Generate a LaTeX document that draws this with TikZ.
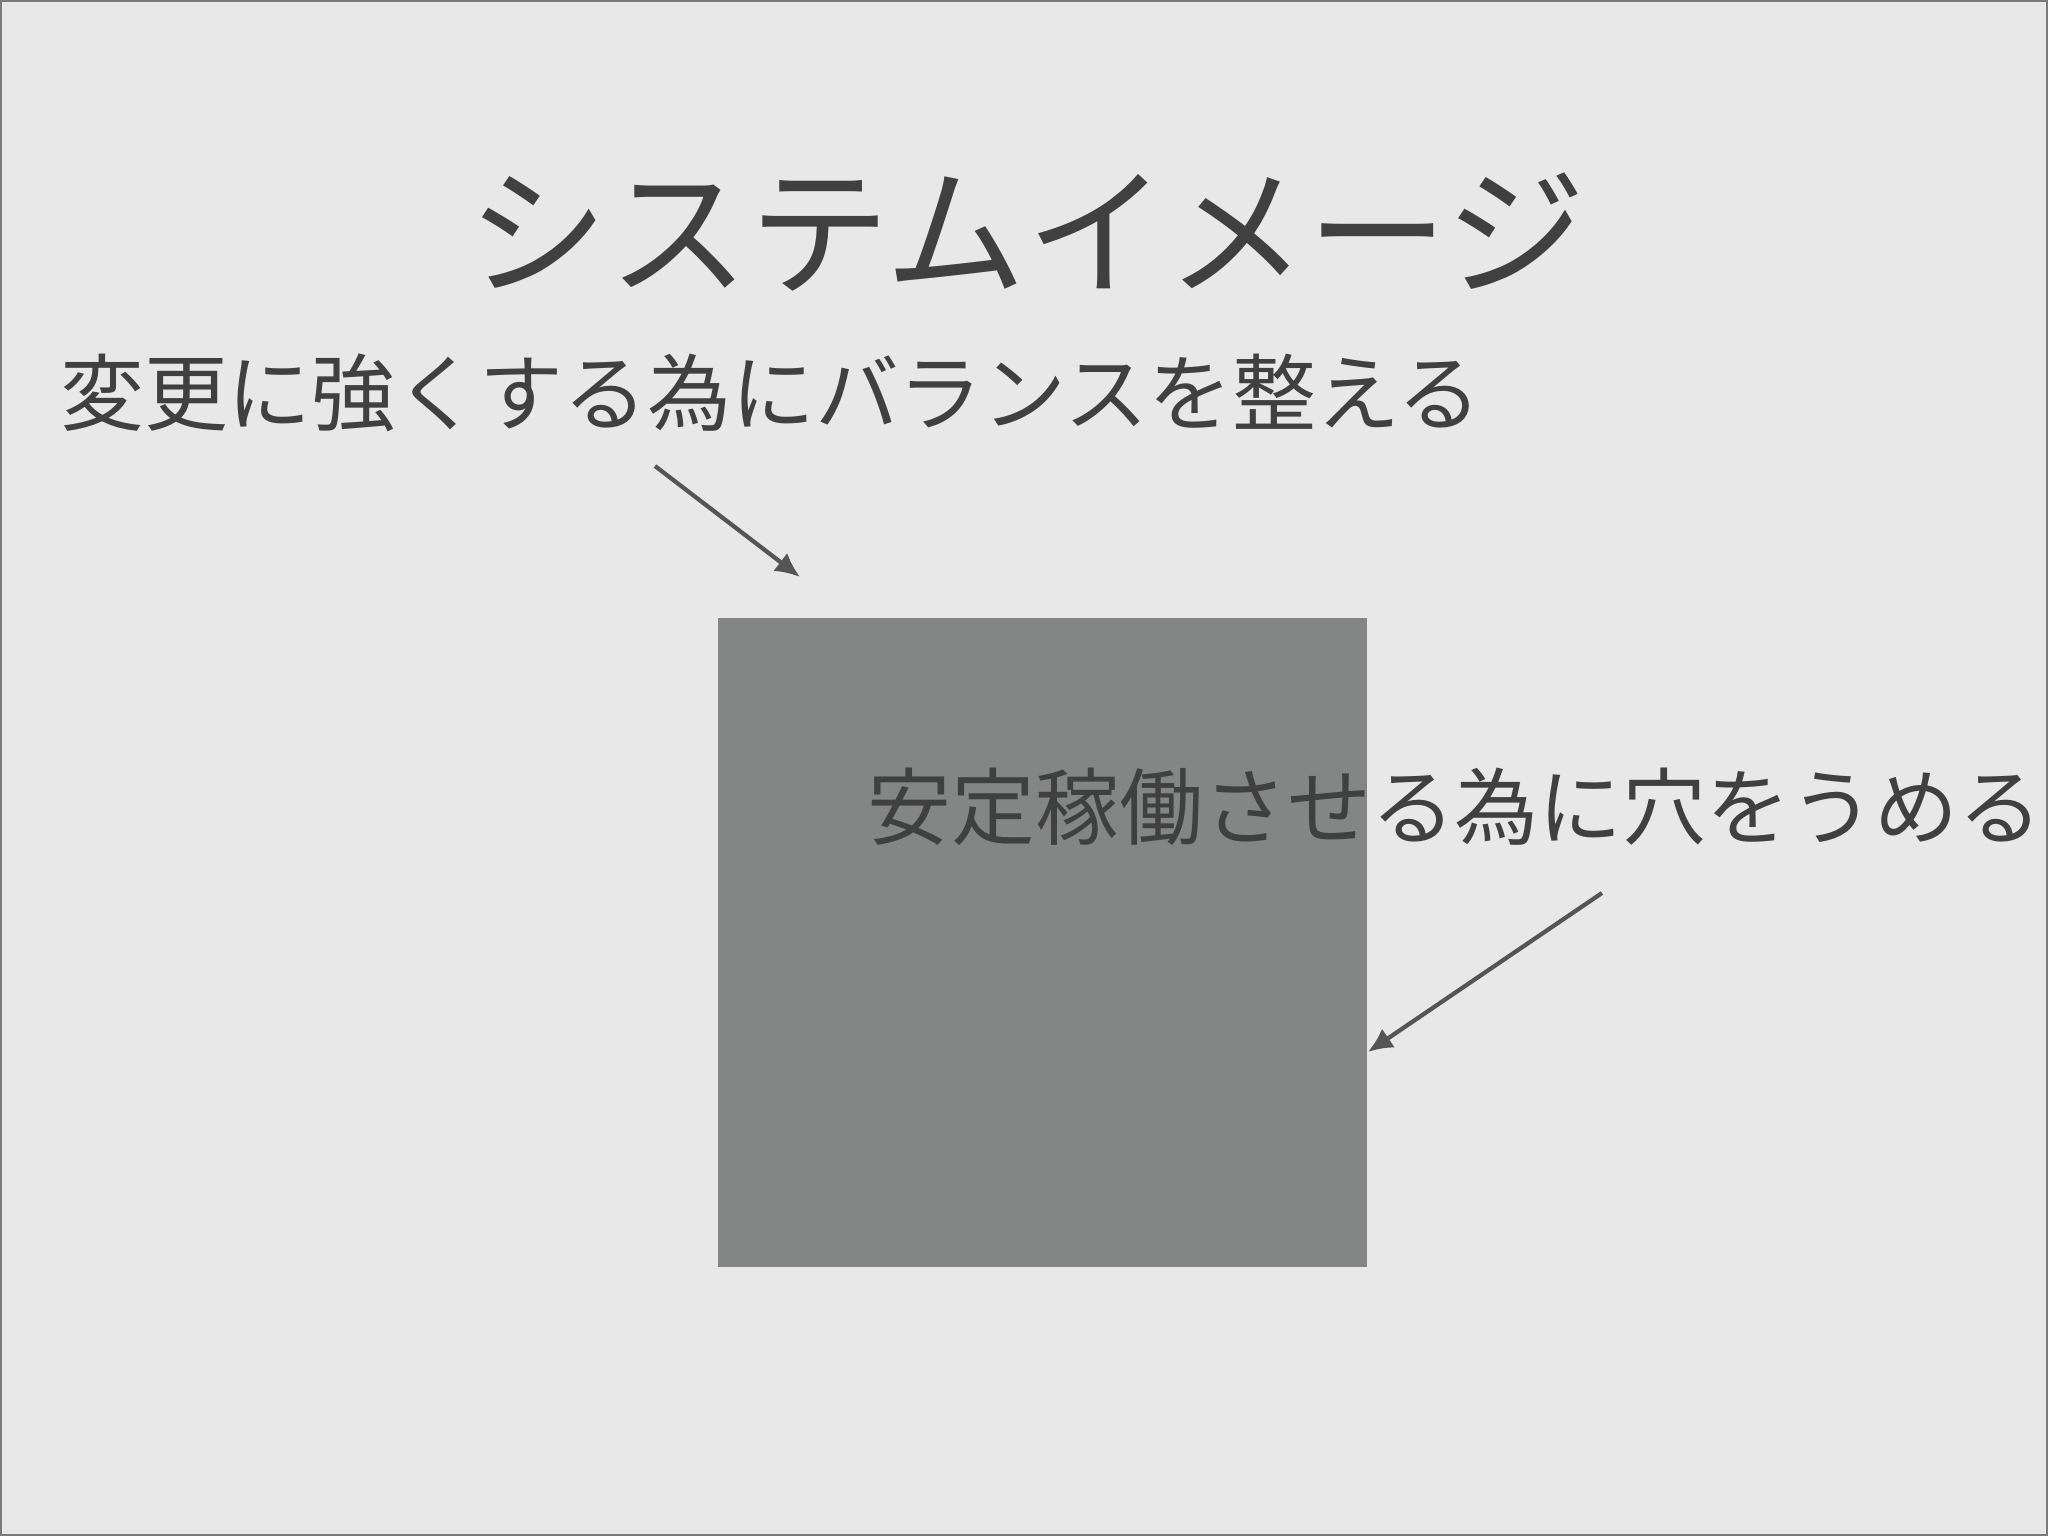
\documentclass[tikz,border=0pt]{standalone}
\usepackage{fontspec}
\newfontfamily\jpfont{Noto Sans CJK JP}
\usetikzlibrary{arrows.meta}

\definecolor{slidebg}{HTML}{E8E8E8}
\definecolor{slideframe}{HTML}{7A7A7A}
\definecolor{boxgray}{HTML}{838685}
\definecolor{textgray}{HTML}{404040}
\definecolor{arrowgray}{HTML}{555555}

\begin{document}
\begin{tikzpicture}[
        x=0.01cm, y=-0.01cm,
        label/.style={text=textgray, inner sep=0pt, font=\jpfont\fontsize{23.85pt}{28pt}\selectfont},
        pointer/.style={draw=arrowgray, line width=1.2pt, -{Latex[length=7pt,width=6.5pt]}}
    ]
            \fill[slidebg] (0,0) rectangle (2048,1536);
            \draw[slideframe, line width=0.6pt] (1,1) rectangle (2047,1535);

            \node[
                fill=boxgray,
                minimum width=6.49cm,
                minimum height=6.49cm,
                inner sep=0pt,
                name=box
            ] at (1042.5,942.5) {};

            \node[
                text=textgray,
                inner sep=0pt,
                font=\jpfont\fontsize{40pt}{46pt}\selectfont,
                name=title
            ] at (1027,232) {システムイメージ};

            \node[
                label,
                name=balance
            ] at (771,393) {変更に強くする為にバランスを整える};
            \node[
                label,
                name=fill
            ] at (1455,807) {安定稼働させる為に穴をうめる};

            \coordinate (b1) at (655,466);
            \coordinate (b2) at (800,577);
            \draw[pointer] (b1) -- (b2);

            \coordinate (f1) at (1602,893);
            \draw[pointer] (f1) -- (box.east |- 0,1052);
        \end{tikzpicture}
\end{document}
